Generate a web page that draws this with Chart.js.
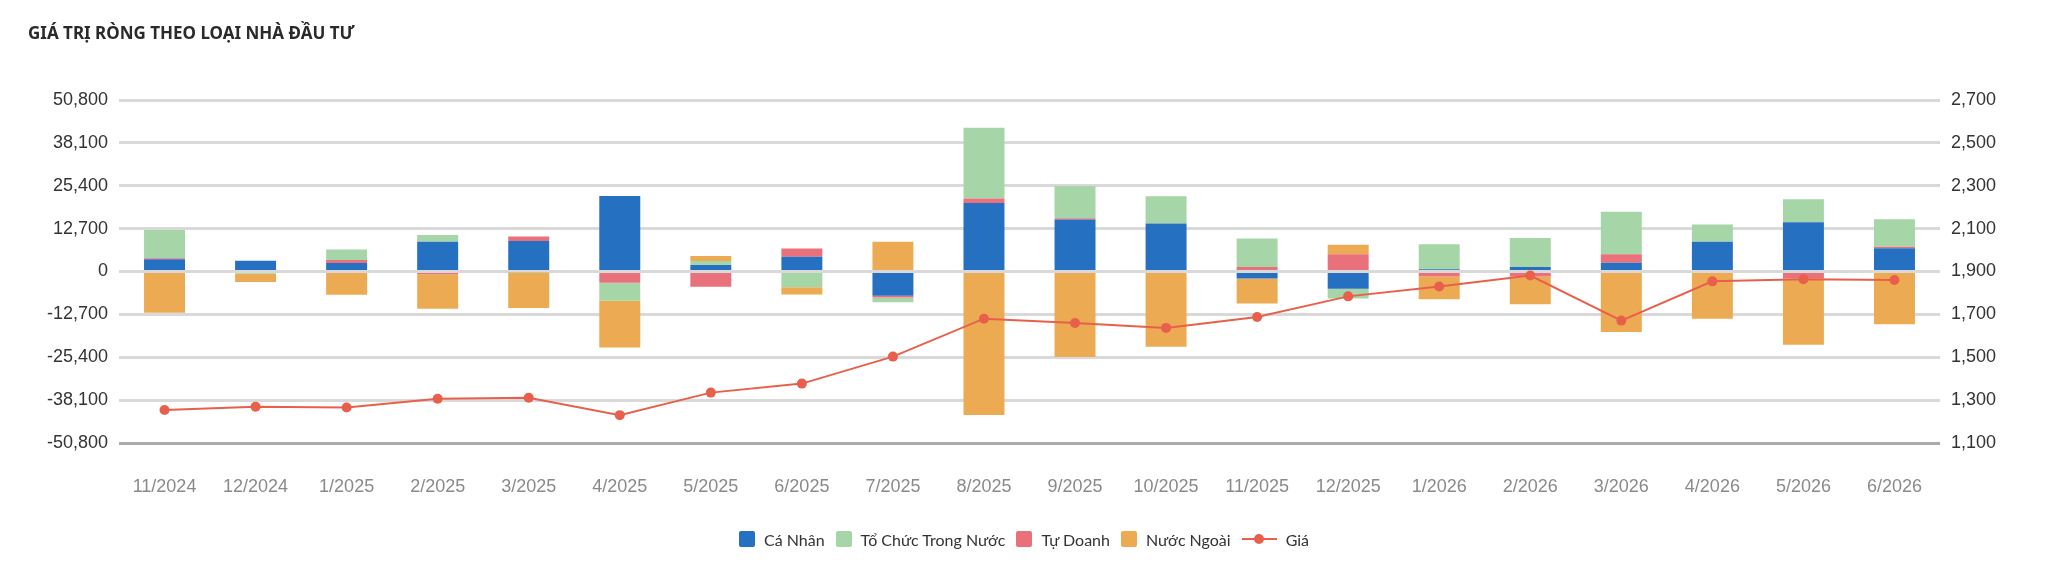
<!DOCTYPE html>
<html lang="vi">
<head>
<meta charset="utf-8">
<title>Giá trị ròng theo loại nhà đầu tư</title>
<script src="https://cdn.jsdelivr.net/npm/chart.js@4.4.1/dist/chart.umd.min.js"></script>
<style>
    html, body { margin: 0; padding: 0; background: #fff; }
    #wrap { position: relative; width: 2048px; height: 583px; overflow: hidden; }
    #chart { position: absolute; left: 0; top: 0; }
    .chart-title {
        position: absolute; left: 28px; top: 21px;
        font-family: "Noto Sans", sans-serif; font-weight: 700; font-size: 17px;
        color: #2a2a2a; line-height: 24px; white-space: nowrap;
    }
    #legend {
        position: absolute; left: 0; width: 2048px; top: 529px; height: 20px;
        display: flex; justify-content: center; align-items: center;
        font-family: Lato, "Noto Sans", sans-serif; font-size: 16px; color: #333;
    }
    .legend-item { display: flex; align-items: center; margin: 0 5.5px; white-space: nowrap; }
    .legend-box { width: 16px; height: 16px; border-radius: 2px; margin-right: 9px; }
    .legend-line { position: relative; width: 35px; height: 2px; margin-right: 9px; }
    .legend-line span { position: absolute; left: 12.5px; top: -4px; width: 10px; height: 10px; border-radius: 50%; }
</style>
</head>
<body>
<div id="wrap">
    <canvas id="chart" width="2048" height="583"></canvas>
    <div class="chart-title">GIÁ TRỊ RÒNG THEO LOẠI NHÀ ĐẦU TƯ</div>
    <div id="legend"></div>
</div>
<script>
const labels = ['11/2024', '12/2024', '1/2025', '2/2025', '3/2025', '4/2025', '5/2025', '6/2025', '7/2025', '8/2025',
    '9/2025', '10/2025', '11/2025', '12/2025', '1/2026', '2/2026', '3/2026', '4/2026', '5/2026', '6/2026'];

// net value by investor type
const caNhan    = [3600, 3200, 2500, 8800, 9000, 22400, 1900, 4400, -7200, 20300, 15400, 14200, -2100, -5100, 700, 1300, 2600, 8800, 14600, 6900];
const toChuc    = [8400, -700, 3100, 2000, -300, -5400, 1200, -4700, -1400, 21000, 9500, 8100, 8500, -2900, 7400, 8600, 12600, 5100, 6800, 8200];
const tuDoanh   = [300, 0, 900, -800, 1400, -3300, -4500, 2400, -500, 1300, 400, 0, 1300, 5100, -1500, -1500, 2500, 0, -2000, 400];
const nuocNgoai = [-12200, -2400, -6900, -10200, -10500, -13800, 1500, -2100, 8800, -42500, -25300, -22300, -7400, 2800, -6700, -8200, -17900, -14000, -19700, -15600];

// index price
const gia = [1254, 1269, 1266, 1306, 1311, 1230, 1335, 1377, 1503, 1680, 1660, 1637, 1688, 1784, 1830, 1881, 1671, 1854, 1864, 1860];

const leftTicks = [-50800, -38100, -25400, -12700, 0, 12700, 25400, 38100, 50800];
const rightTicks = [1100, 1300, 1500, 1700, 1900, 2100, 2300, 2500, 2700];

const COLORS = {
    caNhan: '#2670c2',
    toChuc: '#a6d6a8',
    tuDoanh: '#e9717b',
    nuocNgoai: '#ecab52',
    gia: '#e8604c'
};

const tickFont = { family: '"Liberation Sans", Arial, sans-serif', size: 18 };

function barSet(label, data, color) {
    return {
        type: 'bar',
        label: label,
        data: data,
        backgroundColor: color,
        borderWidth: 0,
        stack: 'net',
        yAxisID: 'y',
        order: 1,
        barPercentage: 0.9,
        categoryPercentage: 0.5
    };
}

// stacking order in the picture: Cá Nhân, Tự Doanh, Tổ Chức, Nước Ngoài
const datasets = [
    barSet('Cá Nhân', caNhan, COLORS.caNhan),
    barSet('Tự Doanh', tuDoanh, COLORS.tuDoanh),
    barSet('Tổ Chức Trong Nước', toChuc, COLORS.toChuc),
    barSet('Nước Ngoài', nuocNgoai, COLORS.nuocNgoai),
    {
        type: 'line',
        label: 'Giá',
        data: gia,
        yAxisID: 'y1',
        order: 0,
        borderColor: COLORS.gia,
        backgroundColor: COLORS.gia,
        borderWidth: 2,
        pointRadius: 5,
        pointHoverRadius: 6,
        pointBackgroundColor: COLORS.gia,
        pointBorderWidth: 0,
        tension: 0
    }
];

const chart = new Chart(document.getElementById('chart'), {
    data: { labels: labels, datasets: datasets },
    options: {
        responsive: false,
        animation: false,
        layout: { padding: { top: 100, left: 0, right: 0, bottom: 0 } },
        plugins: {
            legend: { display: false },
            title: { display: false },
            tooltip: { enabled: true }
        },
        scales: {
            x: {
                stacked: true,
                grid: { display: false, drawTicks: false },
                border: { display: false },
                ticks: { color: '#8a8a8a', font: tickFont, padding: 33, maxRotation: 0 },
                afterFit: scale => { scale.height = 140; }
            },
            y: {
                stacked: true,
                position: 'left',
                min: leftTicks[0],
                max: leftTicks[leftTicks.length - 1],
                afterBuildTicks: scale => { scale.ticks = leftTicks.map(v => ({ value: v })); },
                grid: {
                    drawTicks: false,
                    color: ctx => (ctx.tick && ctx.tick.value === leftTicks[0]) ? '#ababab' : '#d9d9d9',
                    lineWidth: 3
                },
                border: { display: false },
                ticks: {
                    color: '#333',
                    font: tickFont,
                    padding: 11,
                    callback: v => v.toLocaleString('en-US')
                },
                afterFit: scale => { scale.width = 119; }
            },
            y1: {
                position: 'right',
                min: rightTicks[0],
                max: rightTicks[rightTicks.length - 1],
                afterBuildTicks: scale => { scale.ticks = rightTicks.map(v => ({ value: v })); },
                grid: { display: false, drawTicks: false },
                border: { display: false },
                ticks: {
                    color: '#333',
                    font: tickFont,
                    padding: 11,
                    callback: v => v.toLocaleString('en-US')
                },
                afterFit: scale => { scale.width = 108; }
            }
        }
    }
});

// html legend, in the order of the original chart
const legendOrder = ['Cá Nhân', 'Tổ Chức Trong Nước', 'Tự Doanh', 'Nước Ngoài', 'Giá'];
const legendEl = document.getElementById('legend');
legendOrder.forEach(name => {
    const ds = chart.data.datasets.find(d => d.label === name);
    const item = document.createElement('div');
    item.className = 'legend-item';
    if (ds.type === 'line') {
        item.innerHTML = `<div class="legend-line" style="background:${ds.borderColor}"><span style="background:${ds.borderColor}"></span></div><span>${name}</span>`;
    } else {
        item.innerHTML = `<div class="legend-box" style="background:${ds.backgroundColor}"></div><span>${name}</span>`;
    }
    legendEl.appendChild(item);
});
</script>
</body>
</html>
